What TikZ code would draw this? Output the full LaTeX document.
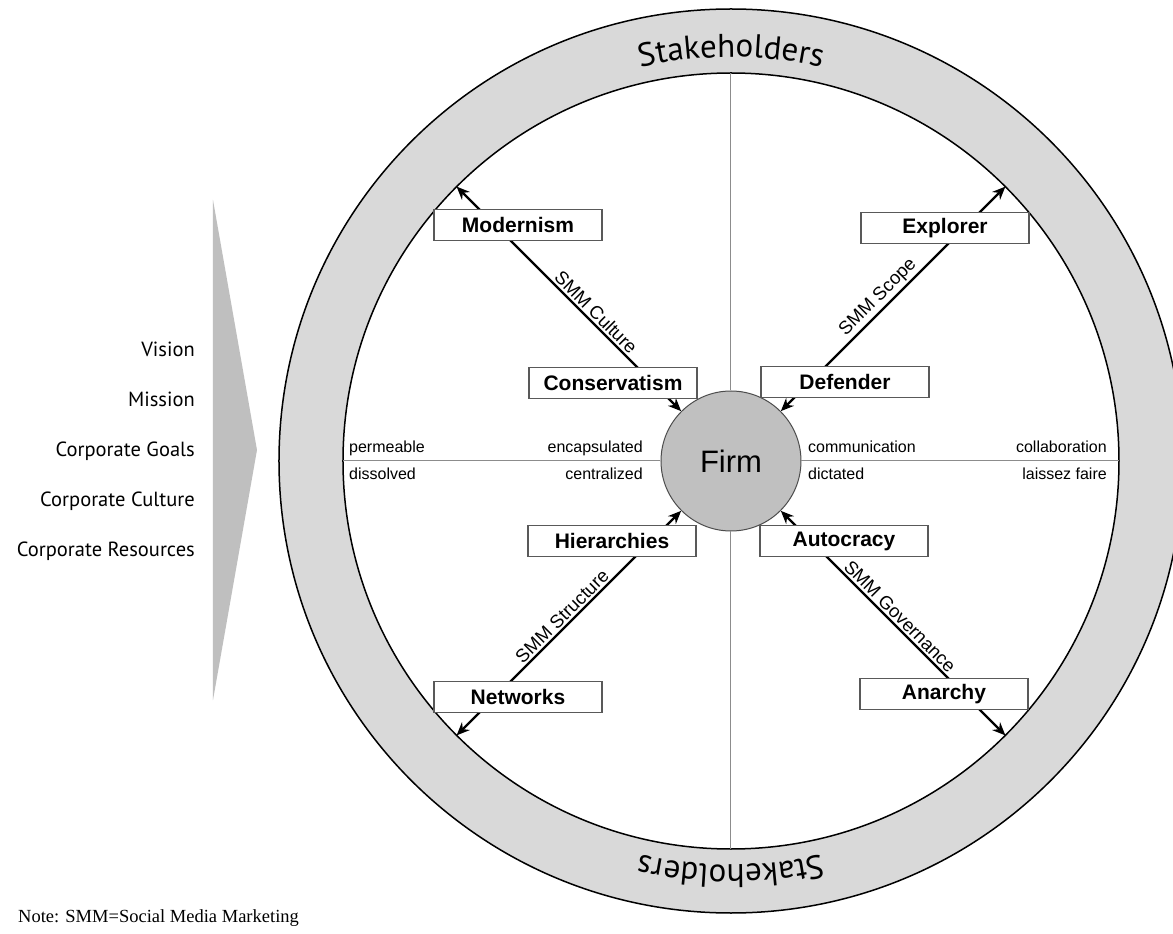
\documentclass[tikz,border=0pt]{standalone}
\usepackage{fontspec}
\setmainfont{Liberation Sans}
\newfontfamily\myriad{PT Sans}
\newfontfamily\notefont{Liberation Serif}
\usepackage{xcolor}
\usetikzlibrary{arrows.meta, positioning, decorations.text}
\definecolor{ringgray}{HTML}{D9D9D9}
\definecolor{firmgray}{HTML}{C0C0C0}
\definecolor{axisgray}{HTML}{8C8C8C}
\newcommand{\stakestyle}{\myriad\fontsize{33}{40}\selectfont}
\tikzstyle{box}=[draw=black!65,fill=white,line width=1.1pt,minimum width=168pt,minimum height=31pt,inner sep=0pt,font=\fontsize{21}{25}\selectfont\bfseries]
\tikzstyle{dim}=[line width=2.4pt,<->]
\tikzstyle{lab}=[sloped,above,inner sep=2pt,font=\fontsize{18.5}{22}\selectfont]
\tikzstyle{small}=[inner sep=0pt,font=\fontsize{16}{19}\selectfont]
\tikzstyle{axis}=[axisgray,line width=1pt]
\tikzstyle{goal}=[inner sep=0pt,anchor=base east,font=\myriad\fontsize{20.5}{24}\selectfont]

\begin{document}
\begin{tikzpicture}[x=1pt,y=1pt,>={Stealth[length=13pt,width=11pt]}]
    \path[use as bounding box,fill=white] (-731,-473) rectangle (442,461);

    % stakeholder ring
    \fill[ringgray,even odd rule] (0,0) circle[radius=452] (0,0) circle[radius=388];
    \draw[line width=1.5pt] (0,0) circle[radius=452] (0,0) circle[radius=388];
    \path[decorate,decoration={text along path,text align=center,
        text={|\stakestyle|Stakeholders}}] (150:404) arc[start angle=150,end angle=30,radius=404];
    \path[decorate,decoration={text along path,text align=center,
        text={|\stakestyle|Stakeholders}}] (-30:404) arc[start angle=-30,end angle=-150,radius=404];

    \node[circle,draw=black!70,fill=firmgray,line width=1pt,minimum size=140pt,
        font=\fontsize{31}{36}\selectfont] (firm) at (0,0) {Firm};

    \coordinate (ringN) at (90:388);
    \coordinate (ringS) at (-90:388);
    \coordinate (ringW) at (180:388);
    \coordinate (ringE) at (0:388);
    \coordinate (cul) at (135:388);
    \coordinate (sco) at (45:388);
    \coordinate (str) at (225:388);
    \coordinate (gov) at (-45:388);

    \draw[axis] (ringN) -- (firm);
    \draw[axis] (firm) -- (ringS);
    \draw[axis] (ringW) -- (firm);
    \draw[axis] (firm) -- (ringE);

    \draw[dim] (firm) -- node[lab,pos=0.41] {SMM Culture} (cul);
    \draw[dim] (firm) -- node[lab,pos=0.47] {SMM Scope} (sco);
    \draw[dim] (firm) -- node[lab,pos=0.50] {SMM Structure} (str);
    \draw[dim] (firm) -- node[lab,pos=0.50] {SMM Governance} (gov);

    \node[box] (mod) at (-213,236) {Modernism};
    \node[box] (con) at (-118,78) {Conservatism};
    \node[box] (exp) at (214,233) {Explorer};
    \node[box] (def) at (114,79) {Defender};
    \node[box] (hie) at (-119,-80) {Hierarchies};
    \node[box] (aut) at (113,-80) {Autocracy};
    \node[box] (net) at (-213,-236) {Networks};
    \node[box] (ana) at (213,-233) {Anarchy};

    \node[small,anchor=base west] (perm) at (-382,8) {permeable};
    \node[small,anchor=base west] (diss) at (-382,-19) {dissolved};
    \node[small,anchor=base east] (enc) at (-88,8) {encapsulated};
    \node[small,anchor=base east] (cen) at (-88,-19) {centralized};
    \node[small,anchor=base west] (com) at (77,8) {communication};
    \node[small,anchor=base west] (dic) at (77,-19) {dictated};
    \node[small,anchor=base east] (col) at (376,8) {collaboration};
    \node[small,anchor=base east] (lai) at (376,-19) {laissez faire};

    % strategic inputs
    \fill[black!25] (-518,261) -- (-474,11) -- (-518,-239) -- cycle;
    \foreach \t [count=\i] in {Vision,Mission,Corporate Goals,Corporate Culture,Corporate Resources}
        \node[goal] (g\i) at (-536,154-50*\i) {\t};

    \node[anchor=base west,inner sep=0pt,font=\notefont\fontsize{18.5}{22}\selectfont] (note)
        at (-713,-461) {Note: SMM=Social Media Marketing};
\end{tikzpicture}
\end{document}
